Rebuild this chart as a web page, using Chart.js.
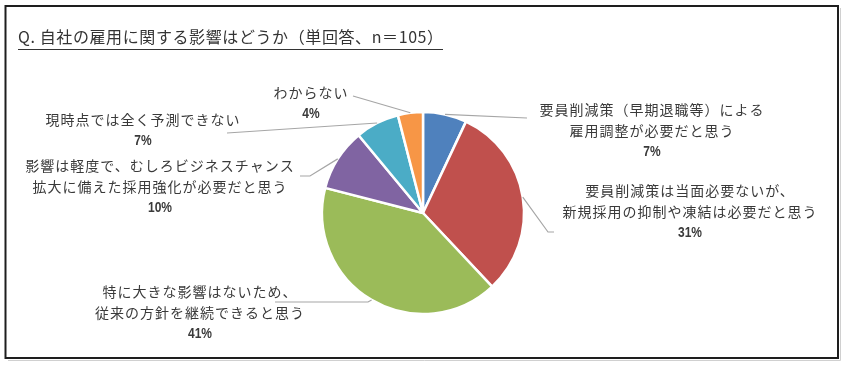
<!DOCTYPE html>
<html>
<head>
<meta charset="utf-8">
<script src="https://cdn.jsdelivr.net/npm/chart.js@4/dist/chart.umd.min.js"></script>
<style>
html, body { margin: 0; padding: 0; background: #fff; }
#wrap { width: 850px; height: 366px; position: relative; }
</style>
</head>
<body>
<div id="wrap"><canvas id="myChart"></canvas></div>
<script>
const titleText = 'Q. 自社の雇用に関する影響はどうか（単回答、n＝105）';
const categories = [
    ['要員削減策（早期退職等）による', '雇用調整が必要だと思う'],
    ['要員削減策は当面必要ないが、', '新規採用の抑制や凍結は必要だと思う'],
    ['特に大きな影響はないため、', '従来の方針を継続できると思う'],
    ['影響は軽度で、むしろビジネスチャンス', '拡大に備えた採用強化が必要だと思う'],
    ['現時点では全く予測できない'],
    ['わからない']
];
const shares = [7, 31, 41, 10, 7, 4];
const colors = ['#4F81BD', '#C0504D', '#9BBB59', '#8064A2', '#4BACC6', '#F79646'];

// label block centre (x, first line y) and the leader line bends, in page px
const labelPos = [
    {x: 652, y: 110, path: [[527, 118]]},
    {x: 690, y: 191, path: [[548, 232], [554, 232]]},
    {x: 200, y: 292, path: [[368, 302], [275, 302]]},
    {x: 160, y: 166, path: [[310, 176], [300, 176]]},
    {x: 143, y: 120, path: [[227, 133]]},
    {x: 311, y: 93, path: [[353, 96]]}
];
const lineGap = 21;

const pieLabels = {
    id: 'pieLabels',
    beforeDraw(chart) {
        const ctx = chart.ctx;
        ctx.save();
        // outer frame
        ctx.strokeStyle = '#d0d0d0';
        ctx.lineWidth = 1;
        ctx.beginPath();
        ctx.moveTo(840.5, 8); ctx.lineTo(840.5, 360.5); ctx.lineTo(8, 360.5);
        ctx.stroke();
        ctx.strokeStyle = '#1e1e1e';
        ctx.lineWidth = 2;
        ctx.strokeRect(5.5, 6, 832.5, 352);
        // title
        ctx.fillStyle = '#333';
        ctx.font = '16px "Noto Sans CJK JP"';
        ctx.textBaseline = 'middle';
        ctx.textAlign = 'left';
        const w0 = ctx.measureText(titleText).width;
        const target = 425;
        ctx.letterSpacing = ((target - w0) / (titleText.length - 1)).toFixed(2) + 'px';
        ctx.fillText(titleText, 18, 37);
        ctx.letterSpacing = '0px';
        ctx.strokeStyle = '#333';
        ctx.lineWidth = 1;
        ctx.beginPath();
        ctx.moveTo(18, 49.5); ctx.lineTo(443, 49.5);
        ctx.stroke();
        ctx.restore();
    },
    afterDatasetsDraw(chart) {
        const ctx = chart.ctx;
        const meta = chart.getDatasetMeta(0);
        ctx.save();
        meta.data.forEach((arc, i) => {
            const mid = (arc.startAngle + arc.endAngle) / 2;
            const sx = arc.x + Math.cos(mid) * arc.outerRadius;
            const sy = arc.y + Math.sin(mid) * arc.outerRadius;
            const lp = labelPos[i];
            ctx.strokeStyle = '#a6a6a6';
            ctx.lineWidth = 1.2;
            ctx.beginPath();
            ctx.moveTo(sx, sy);
            lp.path.forEach(p => ctx.lineTo(p[0], p[1]));
            ctx.stroke();

            ctx.fillStyle = '#3a3a3a';
            ctx.textAlign = 'center';
            ctx.textBaseline = 'middle';
            const lines = categories[i];
            ctx.font = '14px "Noto Sans CJK JP"';
            ctx.letterSpacing = '1px';
            lines.forEach((t, k) => ctx.fillText(t, lp.x, lp.y + k * lineGap));
            ctx.letterSpacing = '0px';
            // narrow percent text, like the original
            ctx.save();
            ctx.translate(lp.x, lp.y + lines.length * lineGap);
            ctx.scale(0.8, 1);
            ctx.font = 'bold 15px "Liberation Sans"';
            ctx.fillText(shares[i] + '%', 0, 0);
            ctx.restore();
        });
        ctx.restore();
    }
};

const ctx = document.getElementById('myChart').getContext('2d');
const myChart = new Chart(ctx, {
    type: 'pie',
    data: {
        labels: categories.map(c => c.join('')),
        datasets: [{
            data: shares,
            backgroundColor: colors,
            borderColor: '#ffffff',
            borderWidth: 2.5
        }]
    },
    options: {
        responsive: true,
        maintainAspectRatio: false,
        animation: false,
        radius: 101,
        layout: { padding: { left: 0, right: 4, top: 60, bottom: 0 } },
        plugins: {
            legend: { display: false },
            tooltip: { enabled: false }
        }
    },
    plugins: [pieLabels]
});
</script>
</body>
</html>
